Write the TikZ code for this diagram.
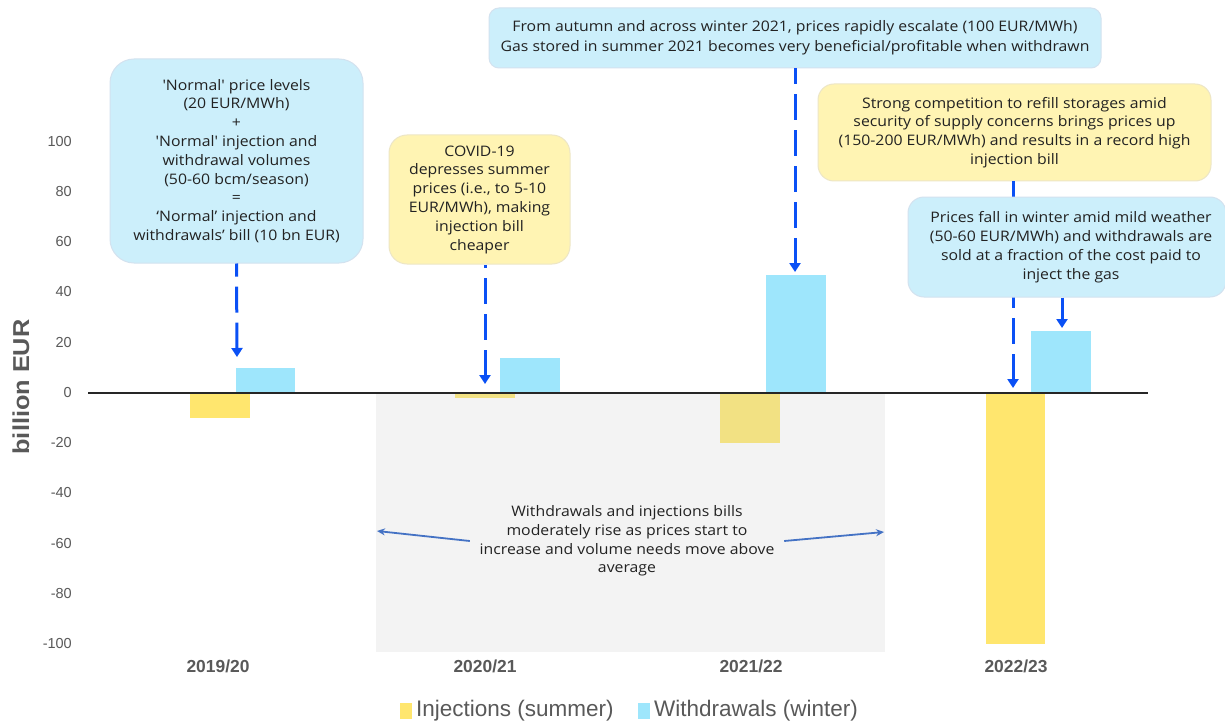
\documentclass[tikz,border=0pt]{standalone}
\usepackage{fontspec}
\setmainfont{Liberation Sans}
\newfontfamily\annfont{Open Sans}[FakeStretch=1.09]
\newfontfamily\axfont{Liberation Sans}
\newfontfamily\wideaxfont{Liberation Sans}[FakeStretch=1.1]
\usetikzlibrary{arrows.meta}
\definecolor{injc}{HTML}{FFE66E}
\definecolor{injg}{HTML}{F2E183}
\definecolor{witc}{HTML}{9EE6FC}
\definecolor{greyzone}{HTML}{F3F3F3}
\definecolor{boxblue}{HTML}{CCEFFB}
\definecolor{boxblueedge}{HTML}{D3E2EF}
\definecolor{boxyel}{HTML}{FFF4B3}
\definecolor{boxyeledge}{HTML}{EDE6C6}
\definecolor{arrblue}{HTML}{0A50F5}
\definecolor{midblue}{HTML}{4472C4}
\definecolor{axgrey}{HTML}{595959}
\definecolor{txt}{HTML}{222222}
\begin{document}
\begin{tikzpicture}[x=1pt,y=-1pt,
  ann/.style={font=\annfont\fontsize{14.5}{18.8}\selectfont, align=center, inner sep=0pt, text=txt},
  bluebox/.style={ann, fill=boxblue, draw=boxblueedge, line width=1pt},
  yelbox/.style={ann, fill=boxyel, draw=boxyeledge, line width=1pt},
  dasharr/.style={draw=arrblue, line width=3pt, dash pattern=on 26pt off 10pt, {Triangle[length=9pt,width=11pt]}-},
  solidarr/.style={draw=arrblue, line width=3pt, -{Triangle[length=9pt,width=11pt]}},
  midarr/.style={draw=midblue, line width=1.8pt, -{Stealth[length=8pt,width=7pt]}},
  ytick/.style={font=\axfont\fontsize{14.5}{16}\selectfont, text=axgrey, anchor=east, inner sep=0pt},
  cat/.style={font=\axfont\bfseries\fontsize{17.4}{19}\selectfont, text=axgrey, inner sep=0pt},
  leg/.style={font=\axfont\fontsize{22.5}{25}\selectfont, text=axgrey, anchor=west, inner sep=0pt}
]
\useasboundingbox (0,0) rectangle (1225,722);
\fill[white] (0,0) rectangle (1225,722);

% grey zone
\fill[greyzone] (376,393) rectangle (885,652);

% bars
\fill[injc] (190,393) rectangle (250,418);
\fill[witc] (236,368) rectangle (295,393);
\fill[injg] (455,393) rectangle (515,398);
\fill[witc] (500,358) rectangle (560,393);
\fill[injg] (720,393) rectangle (780,443);
\fill[witc] (766,275) rectangle (826,393);
\fill[injc] (986,393) rectangle (1045,644);
\fill[witc] (1031,331) rectangle (1091,393);

% zero axis
\draw[line width=1.6pt, black!85] (88,393) -- (1148,393);

% y ticks
\foreach \v/\y in {100/142,80/192,60/242,40/292,20/343,0/393,-20/443,-40/493,-60/544,-80/594,-100/644}
  \node[ytick] (yt\v) at (72,\y) {\v};

\node[font=\wideaxfont\bfseries\fontsize{23}{25}\selectfont, text=axgrey, rotate=90, inner sep=0pt] (ylab) at (21,387) {billion EUR};

% categories
\node[cat] (c1) at (218,666) {2019/20};
\node[cat] (c2) at (485,666) {2020/21};
\node[cat] (c3) at (751,666) {2021/22};
\node[cat] (c4) at (1016,666) {2022/23};

% legend
\fill[injc] (400,703) rectangle (412,719);
\node[leg] (l1) at (416,711) {Injections (summer)};
\fill[witc] (638,703) rectangle (650,719);
\node[leg] (l2) at (654,711) {Withdrawals (winter)};

% arrow target coordinates
\coordinate (t1) at (237,357);
\coordinate (t2) at (485,384);
\coordinate (t3) at (795,272);
\coordinate (t4) at (1013,388);
\coordinate (t5) at (1062,328);

% annotation boxes
\node[bluebox, rounded corners=24pt, minimum width=253pt, minimum height=204pt] (b1) at (236.5,161)
 {'Normal' price levels\\(20 EUR/MWh)\\+\\'Normal' injection and\\withdrawal volumes\\ (50-60 bcm/season)\\=\\‘Normal’ injection and\\withdrawals’ bill (10 bn EUR)};
\node[yelbox, rounded corners=18pt, minimum width=181pt, minimum height=129pt] (b2) at (479.5,199.5)
 {COVID-19\\depresses summer\\prices (i.e., to 5-10\\EUR/MWh), making\\injection bill\\cheaper};
\node[bluebox, rounded corners=10pt, minimum width=612pt, minimum height=60pt, font=\annfont\fontsize{14.5}{20}\selectfont] (b3) at (795,38)
 {From autumn and across winter 2021, prices rapidly escalate (100 EUR/MWh)\\Gas stored in summer 2021 becomes very beneficial/profitable when withdrawn};
\node[yelbox, rounded corners=16pt, minimum width=393pt, minimum height=97pt] (b4) at (1014.5,132.5)
 {Strong competition to refill storages amid\\security of supply concerns brings prices up\\(150-200 EUR/MWh) and results in a record high\\injection bill};

% arrows (dashed one behind box b5)
\draw[dasharr] (t1) -- (b1.south |- b1.south);
\draw[dasharr] (t2) -- (t2 |- b2.south);
\draw[dasharr] (t3) -- (t3 |- b3.south);
\draw[dasharr] (t4) -- (t4 |- b4.south);

\node[bluebox, rounded corners=16pt, minimum width=318pt, minimum height=100pt] (b5) at (1067,247)
 {\hspace*{8pt}Prices fall in winter amid mild weather\\\hspace*{8pt}(50-60 EUR/MWh) and withdrawals are\\\hspace*{8pt}sold at a fraction of the cost paid to\\\hspace*{8pt}inject the gas};
\draw[solidarr] (t5 |- b5.south) -- (t5);

% middle annotation
\node[ann, minimum width=314pt] (mid) at (627,541)
 {Withdrawals and injections bills\\moderately rise as prices start to\\increase and volume needs move above\\average};
\coordinate (gl) at (377,531);
\coordinate (gr) at (884,532);
\draw[midarr] (mid.west) -- (gl);
\draw[midarr] (mid.east) -- (gr);
\end{tikzpicture}
\end{document}
